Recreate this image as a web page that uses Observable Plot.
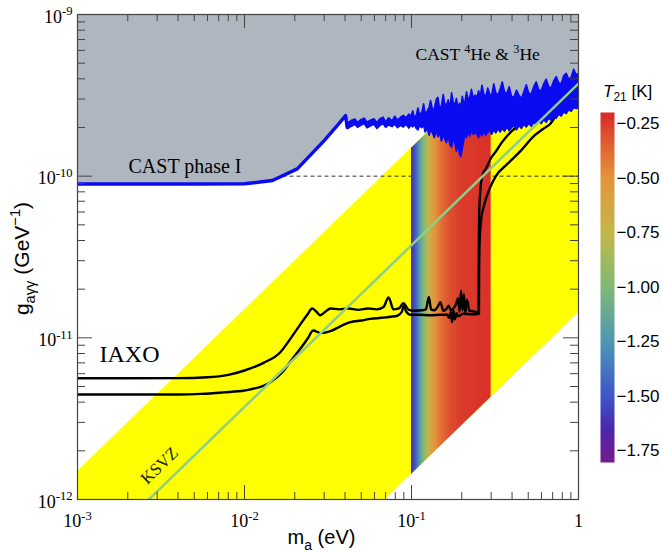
<!DOCTYPE html>
<html><head><meta charset="utf-8">
<script src="https://cdn.jsdelivr.net/npm/d3@7"></script>
<script src="https://cdn.jsdelivr.net/npm/@observablehq/plot@0.6"></script>
<style>
body{margin:0;background:#fff}
#wrap{position:relative;width:662px;height:552px;overflow:hidden;background:#fff}
#wrap svg.cb{position:absolute;left:590px;top:0}
</style>
</head><body><div id="wrap"></div>
<script>
const SERIF = "'Liberation Serif','Times New Roman',Times,serif";
const SANS = "'Liberation Sans',Arial,Helvetica,sans-serif";

// ---- axes ----
const xDomain = [1e-3, 1];
const yDomain = [1e-12, 1e-9];
const xMajor = [1e-3, 1e-2, 1e-1, 1];
const xTickLabels = ["10^{-3}", "10^{-2}", "10^{-1}", "1"];
const yMajor = [1e-12, 1e-11, 1e-10, 1e-9];
const yTickLabels = ["10^{-12}", "10^{-11}", "10^{-10}", "10^{-9}"];
const minorMultipliers = [2, 3, 4, 5, 6, 7, 8, 9];

// ---- QCD axion band (yellow) : m (eV), lower / upper g (GeV^-1) ----
const bandM = [0.001, 1];
const bandLo = [1.43e-14, 1.43e-11];
const bandHi = [1.49e-12, 1.49e-9];

// ---- T21 strip ----
const stripM = [0.1, 0.3];
const stripLo = [1.43e-12, 4.29e-12];
const stripHi = [1.49e-10, 4.47e-10];
const t21M = [0.100, 0.107, 0.113, 0.119, 0.125, 0.130, 0.139, 0.153, 0.171, 0.197, 0.300];
const t21 = [-1.65, -1.45, -1.20, -1.00, -0.80, -0.65, -0.50, -0.38, -0.30, -0.25, -0.22];

// ---- colour bar ----
const cbMin = -1.804, cbMax = -0.198;
const cmapT = [-1.804, -1.65, -1.5, -1.25, -1.0, -0.75, -0.5, -0.35, -0.198];
const cmapColors = ["#7a1a8a", "#4a27ad", "#3e55c9", "#4f97b3", "#80b977", "#c4b74a", "#e3953b", "#e06232", "#d92828"];
const cbTicks = [-1.75, -1.5, -1.25, -1.0, -0.75, -0.5, -0.25];
const cbLabels = ["−1.75", "−1.50", "−1.25", "−1.00", "−0.75", "−0.50", "−0.25"];

// ---- CAST limit (units 1e-10 GeV^-1) ----
const castSmooth = [[0.001, 0.895], [0.005, 0.895], [0.01, 0.897], [0.0147, 0.94], [0.0207, 1.11], [0.03, 1.66], [0.036, 2.06], [0.0403, 2.37], [0.0412, 2.0], [0.0416, 2.0]];
// [m, lower edge, upper edge] of the noisy CAST 4He/3He band
const castNoisy = [
 [0.0416,1.97,2.12],[0.0440,2.02,2.20],[0.0462,2.08,2.24],[0.0478,1.99,2.13],[0.0500,2.05,2.22],
 [0.0525,2.10,2.27],[0.0545,1.98,2.14],[0.0570,2.03,2.20],[0.0600,2.08,2.25],[0.0625,1.96,2.13],
 [0.0650,2.04,2.24],[0.0680,2.10,2.30],[0.0705,1.99,2.15],[0.0735,2.06,2.28],[0.0770,2.01,2.18],
 [0.0800,2.08,2.33],[0.0830,1.98,2.20],[0.0865,2.05,2.30],[0.0900,2.00,2.36],[0.0935,2.08,2.28],
 [0.0970,1.97,2.40],
 [0.1000,2.05,2.34],[0.1025,2.00,2.52],[0.1045,2.08,2.30],[0.1075,1.96,2.36],[0.1100,1.92,2.62],
 [0.1125,2.04,2.40],[0.1160,1.98,2.45],[0.1190,2.06,2.78],[0.1215,1.86,2.44],[0.1250,1.95,2.50],
 [0.1285,1.78,2.66],[0.1310,1.92,2.92],[0.1345,1.84,2.55],[0.1380,1.72,2.60],[0.1420,1.90,2.98],
 [0.1450,1.74,3.05],[0.1480,1.86,2.62],[0.1520,1.64,2.70],[0.1560,1.78,3.18],[0.1590,1.70,2.80],
 [0.1630,1.60,2.72],[0.1670,1.76,2.95],[0.1710,1.55,2.60],[0.1750,1.50,3.25],[0.1790,1.68,2.85],
 [0.1830,1.60,2.70],[0.1870,1.42,3.00],[0.1910,1.58,2.62],[0.1950,1.36,2.80],[0.1990,1.31,2.66],
 [0.2030,1.48,3.10],[0.2070,1.66,2.78],[0.2110,1.80,2.92],[0.2150,1.72,3.30],[0.2200,1.88,2.95],
 [0.2250,1.76,3.05],[0.2300,1.92,3.42],[0.2360,1.80,3.00],[0.2420,1.86,3.15],
 [0.2480,1.80,3.05],[0.2540,1.72,3.35],[0.2600,1.85,3.10],[0.2660,1.76,3.62],[0.2730,1.88,3.20],
 [0.2800,1.78,3.05],[0.2880,1.86,3.48],[0.2960,1.90,3.20],[0.3040,1.80,3.12],[0.3130,1.92,3.70],
 [0.3220,1.84,3.25],[0.3320,1.95,3.15],[0.3420,1.86,3.45],[0.3520,1.96,3.80],[0.3630,1.88,3.30],
 [0.3750,2.00,3.22],[0.3870,1.90,3.55],[0.4000,1.98,3.10],[0.4140,2.04,3.05],[0.4280,1.92,3.38],
 [0.4430,2.05,3.15],[0.4580,1.96,3.00],[0.4740,2.08,3.30],[0.4900,2.00,3.65],[0.5070,2.10,3.25],
 [0.5250,2.02,3.20],[0.5430,2.14,3.55],[0.5620,2.06,3.80],[0.5820,2.18,3.40],[0.6020,2.10,3.35],
 [0.6230,2.22,3.70],[0.6450,2.14,3.95],[0.6680,2.26,3.55],[0.6910,2.20,3.50],[0.7150,2.32,3.85],
 [0.7400,2.26,4.10],[0.7660,2.40,3.75],[0.7930,2.34,3.70],[0.8210,2.48,4.15],[0.8500,2.42,4.30],
 [0.8800,2.56,3.95],[0.9100,2.50,4.05],[0.9420,2.64,4.55],[0.9750,2.60,4.20],[1.0300,2.66,4.35]
];

// ---- IAXO sensitivity curves (units 1e-11 GeV^-1) ----
const iaxoUpper = [
 [0.001,0.562],[0.004,0.563],[0.006,0.57],[0.008,0.59],[0.01,0.628],[0.013,0.70],[0.0164,0.815],
 [0.019,1.0],[0.0217,1.22],[0.024,1.41],[0.0254,1.52],[0.0268,1.46],[0.0284,1.38],[0.0305,1.45],
 [0.0327,1.52],[0.037,1.50],[0.042,1.52],[0.048,1.49],[0.055,1.52],[0.062,1.50],[0.068,1.55],
 [0.0729,1.78],[0.078,1.50],[0.084,1.52],[0.0894,1.64],[0.0963,1.49],[0.105,1.47],[0.115,1.48],
 [0.122,1.50],[0.127,1.79],[0.131,1.50],[0.137,1.48],[0.143,1.55],[0.149,1.66],[0.155,1.47],
 [0.161,1.50],[0.167,1.58],[0.172,1.48],[0.178,1.52],[0.185,1.62],[0.19,1.76],[0.194,1.45],
 [0.198,1.96],[0.202,1.48],[0.206,1.86],[0.21,1.42],[0.215,1.72],[0.222,1.47],[0.235,1.46],
 [0.248,1.44],[0.2526,1.44],[0.2528,2.5],[0.2532,4.0],[0.2545,6.0],[0.258,8.0],[0.265,10.0],
 [0.28,11.2],[0.30,13.0],[0.32,14.2],[0.345,16.0],[0.39,18.6],[0.43,20.5],[0.46,23.0]
];
const iaxoLower = [
 [0.001,0.446],[0.004,0.446],[0.0055,0.45],[0.0075,0.46],[0.01,0.472],[0.0143,0.532],[0.017,0.62],
 [0.0197,0.759],[0.0222,0.89],[0.0239,0.99],[0.0258,1.11],[0.0285,1.07],[0.0327,1.10],[0.037,1.17],
 [0.0431,1.25],[0.05,1.28],[0.0569,1.31],[0.066,1.33],[0.075,1.35],[0.0823,1.37],[0.0875,1.45],
 [0.0899,1.58],[0.093,1.45],[0.0984,1.39],[0.11,1.39],[0.13,1.38],[0.15,1.39],[0.1635,1.39],
 [0.168,1.33],[0.172,1.44],[0.175,1.25],[0.178,1.47],[0.182,1.30],[0.186,1.42],[0.19,1.36],
 [0.2039,1.41],[0.23,1.40],[0.2535,1.41],[0.254,2.5],[0.256,4.0],[0.262,5.5],[0.27,6.43],
 [0.2965,8.55],[0.32,10.0],[0.375,11.9],[0.452,14.4],[0.546,17.9],[0.61,19.5],[0.7,22.0],[0.75,26.0]
];

// ---- KSVZ line ----
const ksvzM = [0.001, 1];
const ksvzG = [3.74e-13, 3.74e-10];

// ---- dashed reference line ----
const dashG = 1e-10, dashFrom = 0.017, dashTo = 1;

// ---- annotations ----
const annotations = [
  {m: 0.00202, g: 1.15e-10, text: "CAST phase I", size: 20},
  {m: 0.1057, g: 5.66e-10, text: "CAST ^{4}He & ^{3}He", size: 17.5},
  {m: 0.001355, g: 7.94e-12, text: "IAXO", size: 24}
];
const ksvzLabel = [{m: 0.0031, g: 1.62e-12, text: "KSVZ"}];

// ---------- build tables ----------
const xMinor = xMajor.slice(0, -1).flatMap(d => minorMultipliers.map(k => k * d));
const yMinor = yMajor.slice(0, -1).flatMap(d => minorMultipliers.map(k => k * d));
const bandRows = bandM.map((m, i) => ({m, lo: bandLo[i], hi: bandHi[i]}));
const stripRows = stripM.map((m, i) => ({m, lo: stripLo[i], hi: stripHi[i]}));
const smoothRows = castSmooth.map(([m, g]) => ({m, g: g * 1e-10}));
const noisyRows = castNoisy.map(([m, lo, hi]) => ({m, lo: lo * 1e-10, hi: hi * 1e-10}));
const castRows = [...smoothRows.map(d => ({m: d.m, lo: d.g, hi: d.g})), ...noisyRows];
const ksvzRows = ksvzM.map((m, i) => ({m, g: ksvzG[i]}));
const xLab = new Map(xMajor.map((v, i) => [v, xTickLabels[i]]));
const yLab = new Map(yMajor.map((v, i) => [v, yTickLabels[i]]));
const cbLab = new Map(cbTicks.map((v, i) => [v, cbLabels[i]]));
const colorOpts = {type: "linear", domain: cmapT, range: cmapColors, interpolate: "rgb"};

const W = 662, H = 552, mL = 77, mR = 84, mT = 14, mB = 53;
const fw = W - mL - mR, fh = H - mT - mB;
const TICK = "#444";
const BLUE = "#0b0bf2";

const plot = Plot.plot({
  width: W, height: H, marginLeft: mL, marginRight: mR, marginTop: mT, marginBottom: mB,
  x: {type: "log", domain: xDomain},
  y: {type: "log", domain: yDomain},
  style: {fontFamily: SERIF, background: "white", color: "black"},
  marks: [
    Plot.areaY(bandRows, {x: "m", y1: "lo", y2: "hi", fill: "#ffff00", clip: true}),
    Plot.ruleY([dashG], {x1: dashFrom, x2: dashTo, stroke: "#333", strokeWidth: 1, strokeDasharray: "4,3", clip: true}),
    Plot.areaY(stripRows, {x: "m", y1: "lo", y2: "hi", fill: "url(#t21grad)", clip: true}),
    Plot.line(iaxoUpper, {x: d => d[0], y: d => d[1] * 1e-11, stroke: "black", strokeWidth: 2.4, curve: "monotone-x", clip: true}),
    Plot.line(iaxoLower, {x: d => d[0], y: d => d[1] * 1e-11, stroke: "black", strokeWidth: 2.4, curve: "monotone-x", clip: true}),
    Plot.areaY(castRows, {x: "m", y1: "lo", y2: yDomain[1], fill: "#aeb6bf", clip: true}),
    Plot.line(smoothRows, {x: "m", y: "g", stroke: BLUE, strokeWidth: 3.4, clip: true}),
    Plot.areaY(noisyRows, {x: "m", y1: "lo", y2: "hi", fill: BLUE, stroke: BLUE, strokeWidth: 1.6, strokeLinejoin: "round", clip: true}),
    Plot.line(ksvzRows, {x: "m", y: "g", stroke: "#8dcf85", strokeWidth: 2.5, clip: true}),
    // inward ticks
    Plot.tickX(xMajor, {x: d => d, insetTop: fh - 14, stroke: TICK}),
    Plot.tickX(xMajor, {x: d => d, insetBottom: fh - 14, stroke: TICK}),
    Plot.tickX(xMinor, {x: d => d, insetTop: fh - 7, stroke: TICK}),
    Plot.tickX(xMinor, {x: d => d, insetBottom: fh - 7, stroke: TICK}),
    Plot.tickY(yMajor, {y: d => d, insetRight: fw - 15, stroke: TICK}),
    Plot.tickY(yMajor, {y: d => d, insetLeft: fw - 15, stroke: TICK}),
    Plot.tickY(yMinor, {y: d => d, insetRight: fw - 8, stroke: TICK}),
    Plot.tickY(yMinor, {y: d => d, insetLeft: fw - 8, stroke: TICK}),
    Plot.frame({stroke: TICK, strokeWidth: 1.2}),
    Plot.axisX({anchor: "bottom", ticks: xMajor, tickSize: 0, tickPadding: 15, tickFormat: d => xLab.get(d), fontSize: 18, fontFamily: SERIF, label: null}),
    Plot.axisY({anchor: "left", ticks: yMajor, tickSize: 0, tickPadding: 5, dy: 2.5, tickFormat: d => yLab.get(d), fontSize: 18, fontFamily: SERIF, label: null}),
    Plot.text(annotations, {x: "m", y: "g", text: "text", fontSize: "size", textAnchor: "start", lineAnchor: "middle", fill: "black", fontFamily: SERIF}),
    Plot.text(ksvzLabel, {x: "m", y: "g", text: "text", fontSize: 17, rotate: -44, textAnchor: "middle", lineAnchor: "middle", fill: "#222", fontFamily: SERIF})
  ]
});

// gradient for the T21 strip, stops placed through the plot's x scale and the colour scale
const xs = plot.scale("x");
const cs = Plot.scale({color: colorOpts});
const gx0 = xs.apply(stripM[0]), gx1 = xs.apply(stripM[1]);
const defs = d3.select(plot).insert("defs", ":first-child");
const grad = defs.append("linearGradient").attr("id", "t21grad").attr("x1", 0).attr("x2", 1).attr("y1", 0).attr("y2", 0);
t21M.forEach((m, i) => grad.append("stop").attr("offset", (xs.apply(m) - gx0) / (gx1 - gx0)).attr("stop-color", cs.apply(t21[i])));

// axis titles
const svg = d3.select(plot);
svg.append("text").attr("x", (mL + W - mR) / 2 - 6).attr("y", 544).attr("text-anchor", "middle")
  .attr("font-family", SANS).attr("font-size", 20).attr("fill", "black").text("m_{a} (eV)");
svg.append("text").attr("transform", `translate(29,${(mT + H - mB) / 2 + 2}) rotate(-90)`).attr("text-anchor", "middle")
  .attr("font-family", SANS).attr("font-size", 21).attr("fill", "black").text("g_{aγγ} (GeV^{−1})");

// colour bar
const cb = Plot.plot({
  width: 72, height: H, marginTop: 112, marginBottom: 90, marginLeft: 10, marginRight: 48,
  x: {domain: [0, 1], axis: null},
  y: {domain: [cbMin, cbMax]},
  color: colorOpts,
  style: {background: "transparent", fontFamily: SANS, color: "black"},
  marks: [
    Plot.raster({fill: (x, y) => y, x1: 0, x2: 1, y1: cbMin, y2: cbMax}),
    Plot.axisY({anchor: "right", ticks: cbTicks, tickSize: 0, tickPadding: 2, tickFormat: d => cbLab.get(d), fontSize: 17, fontFamily: SANS, label: null})
  ]
});
cb.classList.add("cb");
const cbt = d3.select(cb).append("text").attr("x", 13).attr("y", 97).attr("text-anchor", "start")
  .attr("font-family", SANS).attr("font-size", 17).attr("fill", "black");
cbt.append("tspan").attr("font-style", "italic").text("T");
cbt.append("tspan").attr("font-size", 12).attr("dy", 4).text("21");
cbt.append("tspan").attr("dy", -4).text(" [K]");

const wrap = document.getElementById("wrap");
wrap.appendChild(plot);
wrap.appendChild(cb);

// turn ^{..} and _{..} markup into real super/subscript tspans
function richify(el) {
  const s = el.textContent;
  if (!/[\^_]\{/.test(s)) return;
  const parts = [];
  const re = /([\^_])\{([^}]*)\}/g;
  let last = 0, m;
  while ((m = re.exec(s))) {
    if (m.index > last) parts.push({t: s.slice(last, m.index), k: 0});
    parts.push({t: m[2], k: m[1] === "^" ? 1 : -1});
    last = re.lastIndex;
  }
  if (last < s.length) parts.push({t: s.slice(last), k: 0});
  const fs = parseFloat(getComputedStyle(el).fontSize) || 16;
  while (el.firstChild) el.removeChild(el.firstChild);
  let cur = 0;
  for (const p of parts) {
    const target = p.k === 1 ? -0.42 * fs : p.k === -1 ? 0.3 * fs : 0;
    const ts = document.createElementNS("http://www.w3.org/2000/svg", "tspan");
    if (target - cur !== 0) ts.setAttribute("dy", (target - cur).toFixed(2));
    if (p.k) ts.setAttribute("font-size", (fs * 0.7).toFixed(1));
    ts.textContent = p.t;
    el.appendChild(ts);
    cur = target;
  }
}
plot.querySelectorAll("text").forEach(richify);
</script></body></html>
